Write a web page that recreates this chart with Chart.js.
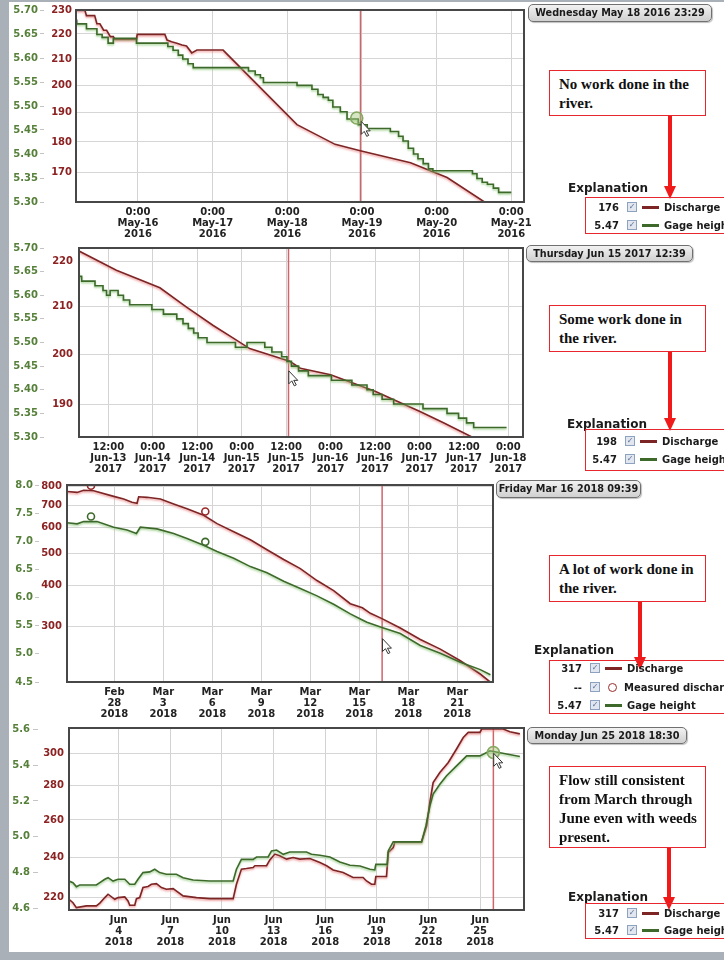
<!DOCTYPE html>
<html>
<head>
<meta charset="utf-8">
<script src="https://cdn.jsdelivr.net/npm/chart.js@4/dist/chart.umd.min.js"></script>
<style>
html, body { margin: 0; padding: 0; background: #fff; }
#page { position: relative; width: 724px; height: 960px; overflow: hidden; background: #fff; font-family: 'DejaVu Sans', sans-serif; }
canvas { position: absolute; left: 8px; }
.strip { position: absolute; background: #a9b0b8; }
.tip { position: absolute; box-sizing: border-box; border: 1px solid #707070; border-radius: 5px; background: linear-gradient(#f2f2f2, #d0d0d0); font-weight: bold; font-size: 9.7px; color: #1a1a1a; text-align: center; box-shadow: 1px 1px 1px rgba(0,0,0,.25); }
.note { position: absolute; box-sizing: border-box; border: 1.5px solid #e8262e; padding: 4px 0 0 9px; font: bold 15px/19px 'Liberation Serif', serif; color: #111; background: #fff; }
.shaft { position: absolute; width: 4px; background: #f01a1a; }
.head { position: absolute; width: 0; height: 0; border-left: 6px solid transparent; border-right: 6px solid transparent; border-top: 13px solid #f01a1a; }
.expl { position: absolute; font-weight: bold; font-size: 12px; line-height: 14px; color: #1b1b1b; }
.leg { position: absolute; box-sizing: border-box; border: 1.5px solid #e8262e; width: 200px; }
.row { position: absolute; display: flex; align-items: center; height: 12px; font-weight: bold; font-size: 10px; color: #1b1b1b; white-space: nowrap; }
.v { width: 40px; text-align: right; margin-right: 8px; }
.cb { box-sizing: border-box; width: 10px; height: 10px; border: 1px solid #8da2c0; background: #e1e6ef; font-size: 8px; line-height: 8px; text-align: center; color: #5b6f98; margin-right: 5px; }
.sw { width: 17px; height: 3px; margin-right: 5px; }
.mk { box-sizing: border-box; width: 9px; height: 9px; border: 1.6px solid #9b2a2a; border-radius: 50%; margin: 0 7px 0 3px; }
</style>
</head>
<body>
<div id="page">
  <div class="strip" style="left:0;top:0;width:9px;height:960px"></div>
  <div class="strip" style="left:0;top:0;width:724px;height:2px"></div>
  <div class="strip" style="left:0;top:952px;width:724px;height:8px"></div>

  <canvas id="c1" width="600" height="240" style="top:0"></canvas>
  <canvas id="c2" width="600" height="239" style="top:236px"></canvas>
  <canvas id="c3" width="600" height="246" style="top:474px"></canvas>
  <canvas id="c4" width="600" height="232" style="top:716px"></canvas>

  <!-- panel 1 -->
  <div class="tip" style="left:528px;top:4px;width:184px;height:18px;line-height:16px">Wednesday May 18 2016 23:29</div>
  <div class="note" style="left:549px;top:70px;width:157px;height:46px">No work done in the<br>river.</div>
  <div class="shaft" style="left:668px;top:116px;height:71px"></div>
  <div class="head" style="left:664px;top:186px"></div>
  <div class="expl" style="left:568px;top:181px">Explanation</div>
  <div class="leg" style="left:585px;top:197px;height:37px"></div>
  <div class="row" style="left:579px;top:201px"><span class="v">176</span><span class="cb">✓</span><span class="sw" style="background:#7d2424"></span><span>Discharge</span></div>
  <div class="row" style="left:579px;top:219px"><span class="v">5.47</span><span class="cb">✓</span><span class="sw" style="background:#3d6a2b"></span><span>Gage height</span></div>

  <!-- panel 2 -->
  <div class="tip" style="left:526px;top:245px;width:167px;height:17px;line-height:15px">Thursday Jun 15 2017 12:39</div>
  <div class="note" style="left:549px;top:305px;width:157px;height:47px">Some work done in<br>the river.</div>
  <div class="shaft" style="left:668px;top:352px;height:67px"></div>
  <div class="head" style="left:664px;top:418px"></div>
  <div class="expl" style="left:567px;top:417px">Explanation</div>
  <div class="leg" style="left:585px;top:429px;height:42px"></div>
  <div class="row" style="left:577px;top:435px"><span class="v">198</span><span class="cb">✓</span><span class="sw" style="background:#7d2424"></span><span>Discharge</span></div>
  <div class="row" style="left:577px;top:453px"><span class="v">5.47</span><span class="cb">✓</span><span class="sw" style="background:#3d6a2b"></span><span>Gage height</span></div>

  <!-- panel 3 -->
  <div class="tip" style="left:496px;top:480px;width:145px;height:18px;line-height:16px">Friday Mar 16 2018 09:39</div>
  <div class="note" style="left:549px;top:555px;width:157px;height:47px">A lot of work done in<br>the river.</div>
  <div class="shaft" style="left:638px;top:602px;height:56px"></div>
  <div class="head" style="left:634px;top:657px"></div>
  <div class="expl" style="left:534px;top:643px">Explanation</div>
  <div class="leg" style="left:549px;top:660px;height:54px"></div>
  <div class="row" style="left:542px;top:662px"><span class="v">317</span><span class="cb">✓</span><span class="sw" style="background:#7d2424"></span><span>Discharge</span></div>
  <div class="row" style="left:542px;top:681px"><span class="v">--</span><span class="cb">✓</span><span class="mk"></span><span>Measured discharge</span></div>
  <div class="row" style="left:542px;top:699px"><span class="v">5.47</span><span class="cb">✓</span><span class="sw" style="background:#3d6a2b"></span><span>Gage height</span></div>

  <!-- panel 4 -->
  <div class="tip" style="left:527px;top:727px;width:160px;height:17px;line-height:15px">Monday Jun 25 2018 18:30</div>
  <div class="note" style="left:549px;top:766px;width:157px;height:82px">Flow still consistent<br>from March through<br>June even with weeds<br>present.</div>
  <div class="shaft" style="left:667px;top:848px;height:50px"></div>
  <div class="head" style="left:663px;top:897px"></div>
  <div class="expl" style="left:568px;top:890px">Explanation</div>
  <div class="leg" style="left:585px;top:903px;height:36px"></div>
  <div class="row" style="left:579px;top:907px"><span class="v">317</span><span class="cb">✓</span><span class="sw" style="background:#7d2424"></span><span>Discharge</span></div>
  <div class="row" style="left:579px;top:924px"><span class="v">5.47</span><span class="cb">✓</span><span class="sw" style="background:#3d6a2b"></span><span>Gage height</span></div>
</div>

<script>
// ---------- panel 1: May 2016, x = days after May-15 0:00 ----------
const p1DisDays = [0.18, 0.29, 0.31, 0.42, 0.45, 0.49, 0.54, 0.58, 0.63, 0.67, 0.69, 0.98, 0.99, 1.36, 1.39, 1.45, 1.52, 1.59, 1.65, 1.72, 1.79, 2.14, 3.13, 3.64, 3.99, 4.65, 5.14, 5.64, 5.80];
const p1DisCfs  = [229.8, 229.8, 227.6, 227.6, 224.2, 224.2, 221.5, 221.5, 218.9, 218.9, 217.8, 217.8, 219.8, 219.8, 217.5, 216.8, 216.2, 215.5, 215.1, 212.4, 213.5, 213.5, 185.9, 179.2, 177.0, 173.2, 168.5, 161.0, 158.5];
const p1GageDays = [0.18, 0.31, 0.45, 0.52, 0.60, 0.67, 0.98, 1.40, 1.47, 1.54, 1.60, 1.67, 1.74, 2.48, 2.57, 2.64, 2.68, 3.13, 3.33, 3.41, 3.48, 3.55, 3.61, 3.71, 3.80, 3.95, 4.07, 4.38, 4.49, 4.55, 4.62, 4.69, 4.75, 4.82, 4.89, 4.95, 5.48, 5.54, 5.61, 5.68, 5.76, 5.83, 5.92, 6.00];
const p1GageFt   = [5.680, 5.671, 5.661, 5.649, 5.643, 5.631, 5.641, 5.631, 5.624, 5.616, 5.606, 5.598, 5.588, 5.580, 5.573, 5.565, 5.559, 5.549, 5.543, 5.535, 5.524, 5.518, 5.512, 5.498, 5.488, 5.473, 5.461, 5.453, 5.447, 5.437, 5.427, 5.412, 5.400, 5.390, 5.380, 5.369, 5.365, 5.359, 5.349, 5.341, 5.337, 5.329, 5.320, 5.320];
const p1XTicks = [1, 2, 3, 4, 5, 6];
const p1XLabels = [['0:00', 'May-16', '2016'], ['0:00', 'May-17', '2016'], ['0:00', 'May-18', '2016'], ['0:00', 'May-19', '2016'], ['0:00', 'May-20', '2016'], ['0:00', 'May-21', '2016']];
const p1QTicks = [230, 220, 210, 200, 190, 180, 170];
const p1GTicks = [5.30, 5.35, 5.40, 5.45, 5.50, 5.55, 5.60, 5.65, 5.70];
const p1Cursor = 3.98;
const p1Hover = { day: 3.93, ft: 5.475 };
const p1Mouse = { day: 3.99, ft: 5.468 };

// ---------- panel 2: June 2017, x = days after Jun-13 0:00 ----------
const p2DisDays = [0.17, 0.59, 1.08, 1.38, 1.68, 1.91, 2.09, 2.54, 2.66, 3.00, 3.50, 3.78, 4.00, 4.27, 4.59, 4.80];
const p2DisCfs  = [222.3, 218.0, 214.1, 209.9, 206.0, 203.3, 201.2, 198.6, 197.2, 195.9, 192.6, 190.4, 188.7, 186.5, 183.8, 182.2];
const p2GageDays = [0.17, 0.20, 0.35, 0.44, 0.48, 0.52, 0.61, 0.67, 0.74, 0.99, 1.12, 1.27, 1.34, 1.40, 1.46, 1.51, 1.61, 1.93, 2.06, 2.26, 2.34, 2.45, 2.51, 2.56, 2.64, 2.75, 3.01, 3.24, 3.41, 3.48, 3.58, 3.71, 4.04, 4.31, 4.44, 4.53, 4.61, 4.83, 4.98];
const p2GageFt   = [5.65, 5.64, 5.63, 5.62, 5.61, 5.60, 5.61, 5.60, 5.59, 5.58, 5.57, 5.56, 5.55, 5.54, 5.53, 5.52, 5.51, 5.50, 5.49, 5.50, 5.49, 5.48, 5.47, 5.46, 5.45, 5.44, 5.43, 5.42, 5.41, 5.40, 5.39, 5.38, 5.37, 5.36, 5.35, 5.34, 5.33, 5.32, 5.32];
const p2XTicks = [0.5, 1, 1.5, 2, 2.5, 3, 3.5, 4, 4.5, 5];
const p2XLabels = [['12:00', 'Jun-13', '2017'], ['0:00', 'Jun-14', '2017'], ['12:00', 'Jun-14', '2017'], ['0:00', 'Jun-15', '2017'], ['12:00', 'Jun-15', '2017'],
                   ['0:00', 'Jun-16', '2017'], ['12:00', 'Jun-16', '2017'], ['0:00', 'Jun-17', '2017'], ['12:00', 'Jun-17', '2017'], ['0:00', 'Jun-18', '2017']];
const p2QTicks = [220, 210, 200, 190];
const p2GTicks = [5.30, 5.35, 5.40, 5.45, 5.50, 5.55, 5.60, 5.65, 5.70];
const p2Cursor = 2.527;
const p2Mouse = { day: 2.53, ft: 5.44 };

// ---------- panel 3: Feb-Mar 2018, x = days after Feb-28 0:00 ----------
const p3DisDays = [-2.90, -2.28, -1.88, -1.27, -0.04, 0.57, 1.08, 1.39, 1.49, 2.00, 2.82, 3.63, 4.45, 5.47, 6.29, 7.31, 8.33, 9.35, 10.37, 11.39, 12.41, 13.43, 14.45, 15.19, 15.68, 16.39, 17.51, 18.74, 19.96, 21.19, 22.41, 23.03];
const p3DisCfs  = [773, 768, 780, 777, 747, 733, 717, 712, 745, 742, 733, 708, 685, 654, 617, 583, 551, 514, 480, 450, 414, 386, 352, 342, 329, 317, 297, 274, 256, 236, 215, 203];
const p3GageDays = [-2.90, -2.28, -1.88, -1.06, -0.04, 0.78, 1.35, 1.59, 2.61, 3.63, 4.45, 5.47, 6.29, 7.31, 8.33, 9.35, 10.37, 11.39, 12.41, 13.43, 14.45, 15.19, 15.47, 16.39, 17.51, 18.74, 19.96, 21.19, 22.41, 23.03];
const p3GageFt   = [7.33, 7.31, 7.35, 7.35, 7.25, 7.20, 7.14, 7.25, 7.22, 7.14, 7.05, 6.93, 6.82, 6.70, 6.55, 6.44, 6.29, 6.16, 6.03, 5.88, 5.71, 5.60, 5.56, 5.47, 5.36, 5.15, 5.01, 4.85, 4.72, 4.63];
const p3MeasDays = [-1.43, 5.57];
const p3MeasCfs  = [805, 672];
const p3MeasFt   = [7.44, 6.99];
const p3XTicks = [0, 3, 6, 9, 12, 15, 18, 21];
const p3XLabels = [['Feb', '28', '2018'], ['Mar', '3', '2018'], ['Mar', '6', '2018'], ['Mar', '9', '2018'], ['Mar', '12', '2018'], ['Mar', '15', '2018'], ['Mar', '18', '2018'], ['Mar', '21', '2018']];
const p3QTicks = [800, 700, 600, 500, 400, 300];
const p3GTicks = [4.5, 5.0, 5.5, 6.0, 6.5, 7.0, 7.5, 8.0];
const p3Cursor = 16.40;
const p3Mouse = { day: 16.42, ft: 5.27 };

// ---------- panel 4: June 2018, x = day of June ----------
const p4DisDays = [1.11, 1.34, 1.54, 2.12, 2.70, 2.90, 3.19, 3.38, 3.77, 3.96, 4.35, 4.54, 4.64, 4.93, 5.03, 5.22, 5.41, 5.70, 5.90, 6.19,
                   6.48, 6.77, 7.16, 7.74, 8.52, 9.29, 10.65, 10.84, 11.13, 11.42, 11.81, 11.91, 12.59, 12.78, 13.07, 13.36, 13.75, 14.13, 14.52, 15.11,
                   15.69, 16.08, 16.46, 17.04, 17.62, 18.20, 18.40, 18.69, 18.88, 18.94, 19.56, 19.66, 19.95, 20.05, 21.60, 21.89, 22.08, 22.27, 22.66, 23.15,
                   23.63, 24.02, 24.31, 24.99, 25.09, 26.34, 26.73, 27.31];
const p4DisCfs  = [219.2, 217.6, 215.3, 216.1, 216.1, 217.4, 220.0, 221.6, 219.2, 220.0, 220.3, 218.4, 216.4, 216.4, 219.5, 220.0, 224.8, 225.3, 226.4, 226.7,
                   224.8, 224.0, 224.3, 220.8, 220.0, 219.5, 219.5, 226.4, 233.9, 234.2, 234.7, 235.6, 235.6, 238.6, 241.6, 240.7, 239.0, 239.8, 239.0, 239.3,
                   237.2, 235.6, 233.5, 232.2, 229.7, 229.7, 228.0, 226.4, 226.4, 230.2, 230.2, 242.4, 245.0, 248.1, 248.1, 256.8, 270.0, 281.8, 288.0, 294.2,
                   302.9, 310.5, 313.9, 313.9, 316.2, 316.2, 314.4, 312.9];
const p4GageDays = [1.11, 1.34, 1.54, 1.73, 2.70, 2.90, 3.19, 3.38, 3.67, 3.96, 4.35, 4.64, 4.93, 5.12, 5.41, 5.80, 6.09, 6.38, 6.77, 7.35,
                    7.74, 8.32, 9.29, 10.65, 10.84, 11.13, 11.81, 12.01, 12.68, 12.88, 13.17, 13.56, 13.94, 14.91, 15.20, 15.69, 16.27, 16.85, 17.44, 18.02,
                    18.60, 18.88, 18.94, 19.60, 19.66, 19.95, 21.60, 21.85, 22.08, 22.27, 22.66, 23.05, 23.63, 24.22, 24.99, 25.57, 26.54, 27.31];
const p4GageFt   = [4.754, 4.745, 4.723, 4.732, 4.732, 4.745, 4.764, 4.773, 4.754, 4.764, 4.764, 4.736, 4.736, 4.764, 4.801, 4.805, 4.820, 4.801, 4.792, 4.792,
                    4.773, 4.760, 4.754, 4.754, 4.820, 4.875, 4.875, 4.888, 4.888, 4.922, 4.927, 4.903, 4.916, 4.916, 4.903, 4.898, 4.888, 4.860, 4.842, 4.838,
                    4.820, 4.816, 4.847, 4.847, 4.922, 4.972, 4.972, 5.061, 5.172, 5.238, 5.293, 5.340, 5.395, 5.451, 5.451, 5.479, 5.461, 5.447];
const p4XTicks = [4, 7, 10, 13, 16, 19, 22, 25];
const p4XLabels = [['Jun', '4', '2018'], ['Jun', '7', '2018'], ['Jun', '10', '2018'], ['Jun', '13', '2018'], ['Jun', '16', '2018'], ['Jun', '19', '2018'], ['Jun', '22', '2018'], ['Jun', '25', '2018']];
const p4QTicks = [300, 280, 260, 240, 220];
const p4GTicks = [4.6, 4.8, 5.0, 5.2, 5.4, 5.6];
const p4Cursor = 25.77;
const p4Hover = { day: 25.77, ft: 5.47 };
const p4Mouse = { day: 25.79, ft: 5.465 };

// ---------- drawing ----------
Chart.defaults.font.family = "'DejaVu Sans', sans-serif";
Chart.defaults.font.weight = 'bold';
Chart.defaults.font.size = 10;

const RED = '#7d2424';
const GREEN = '#3d6a2b';

function pts(xs, ys) {
  return xs.map((x, i) => ({ x: x, y: ys[i] }));
}

function line(xs, ys, axis, color, halo, stepped) {
  return { data: pts(xs, ys), yAxisID: axis, borderColor: color, borderWidth: 1.6, pointRadius: 0,
           tension: 0, stepped: stepped || false, halo: halo };
}

function dots(xs, ys, axis, color, fill, r) {
  return { data: pts(xs, ys), yAxisID: axis, showLine: false, pointRadius: r, pointBorderWidth: 1.6,
           pointBorderColor: color, pointBackgroundColor: fill };
}

// pale glow under the lines, like the screenshot
const halo = {
  id: 'halo',
  beforeDatasetDraw(chart, args) {
    const ds = chart.data.datasets[args.index];
    if (!ds.halo) return;
    const ctx = chart.ctx;
    ctx.save();
    ctx.shadowColor = ds.halo;
    ctx.shadowBlur = 2;
    ctx.shadowOffsetY = 1.5;
  },
  afterDatasetDraw(chart, args) {
    if (chart.data.datasets[args.index].halo) chart.ctx.restore();
  }
};

// cursor line, plot frame and the mouse pointer from the screenshot
const frame = {
  id: 'frame',
  beforeDatasetsDraw(chart, args, opts) {
    const a = chart.chartArea, ctx = chart.ctx;
    const x = chart.scales.x.getPixelForValue(opts.cursor);
    ctx.save();
    ctx.strokeStyle = '#d0646b';
    ctx.lineWidth = 1.5;
    ctx.beginPath();
    ctx.moveTo(x, a.top);
    ctx.lineTo(x, a.bottom);
    ctx.stroke();
    ctx.restore();
  },
  afterDatasetsDraw(chart, args, opts) {
    const a = chart.chartArea, ctx = chart.ctx;
    ctx.save();
    ctx.strokeStyle = '#474747';
    ctx.lineWidth = 2;
    ctx.strokeRect(a.left, a.top, a.right - a.left, a.bottom - a.top);
    if (opts.mouse) {
      const mx = chart.scales.x.getPixelForValue(opts.mouse.day);
      const my = chart.scales.g.getPixelForValue(opts.mouse.ft);
      const shape = [[0, 0], [0, 13], [3, 10], [5.5, 15], [7.5, 14], [5, 9.5], [9, 9.5]];
      ctx.beginPath();
      shape.forEach((p, i) => (i ? ctx.lineTo(mx + p[0], my + p[1]) : ctx.moveTo(mx + p[0], my + p[1])));
      ctx.closePath();
      ctx.fillStyle = '#fff';
      ctx.fill();
      ctx.lineWidth = 1;
      ctx.strokeStyle = '#333';
      ctx.stroke();
    }
    ctx.restore();
  }
};

function panel(id, o) {
  return new Chart(document.getElementById(id), {
    type: 'line',
    data: { datasets: o.datasets },
    options: {
      responsive: false,
      animation: false,
      events: [],
      layout: { padding: { top: o.padTop, right: o.padRight, left: 0, bottom: 0 } },
      plugins: { legend: { display: false }, tooltip: { enabled: false }, frame: { cursor: o.cursor, mouse: o.mouse } },
      scales: {
        x: {
          type: 'linear', min: o.xMin, max: o.xMax,
          afterBuildTicks: s => { s.ticks = o.xTicks.map(v => ({ value: v })); },
          afterFit: s => { s.height = 38; },
          ticks: { color: '#222', padding: 5, maxRotation: 0, autoSkip: false, font: { lineHeight: 1.1 },
                   callback: v => o.xLabels[o.xTicks.indexOf(v)] },
          grid: { color: '#d3d3d3', drawTicks: false },
          border: { display: false }
        },
        g: {
          position: 'left', weight: 1, min: o.gMin, max: o.gMax,
          afterBuildTicks: s => { s.ticks = o.gTicks.map(v => ({ value: v })); },
          afterFit: s => { s.width = o.gW; },
          ticks: { color: '#56803a', padding: o.gPad, autoSkip: false, callback: v => v.toFixed(o.gDec) },
          grid: { drawOnChartArea: false, tickLength: o.gTick, color: '#c4c4c4' },
          border: { display: false }
        },
        q: {
          type: 'logarithmic', position: 'left', weight: 0, min: o.qMin, max: o.qMax,
          afterBuildTicks: s => { s.ticks = o.qTicks.map(v => ({ value: v })); },
          afterFit: s => { s.width = o.qW; },
          ticks: { color: '#8c2222', padding: o.qPad, autoSkip: false, callback: v => String(v) },
          grid: { color: '#d6d6d6', drawTicks: false },
          border: { display: false }
        }
      }
    },
    plugins: [frame, halo]
  });
}

const PINK = 'rgba(235,130,130,0.75)';
const LIGHTGREEN = 'rgba(140,200,120,0.75)';

panel('c1', {
  datasets: [
    dots([p1Hover.day], [p1Hover.ft], 'g', '#86a860', 'rgba(160,200,120,0.45)', 6),
    line(p1GageDays, p1GageFt, 'g', GREEN, LIGHTGREEN, 'after'),
    line(p1DisDays, p1DisCfs, 'q', RED, PINK)
  ],
  xMin: 0.17, xMax: 6.17, xTicks: p1XTicks, xLabels: p1XLabels, cursor: p1Cursor, mouse: p1Mouse,
  gMin: 5.30, gMax: 5.70, gTicks: p1GTicks, gDec: 2, gW: 36, gPad: 2, gTick: 4,
  qMin: 161, qMax: 230, qTicks: p1QTicks, qW: 32, qPad: 4,
  padTop: 6, padRight: 84
});

panel('c2', {
  datasets: [
    line(p2GageDays, p2GageFt, 'g', GREEN, LIGHTGREEN, 'after'),
    line(p2DisDays, p2DisCfs, 'q', RED, PINK)
  ],
  xMin: 0.17, xMax: 5.165, xTicks: p2XTicks, xLabels: p2XLabels, cursor: p2Cursor, mouse: p2Mouse,
  gMin: 5.30, gMax: 5.70, gTicks: p2GTicks, gDec: 2, gW: 36, gPad: 2, gTick: 4,
  qMin: 183.8, qMax: 223, qTicks: p2QTicks, qW: 35, qPad: 6,
  padTop: 10, padRight: 85
});

panel('c3', {
  datasets: [
    dots(p3MeasDays, p3MeasCfs, 'q', '#9b2a2a', 'rgba(255,255,255,0)', 3.5),
    dots(p3MeasDays, p3MeasFt, 'g', '#3d6a2b', 'rgba(255,255,255,0)', 3.5),
    line(p3GageDays, p3GageFt, 'g', GREEN, LIGHTGREEN),
    line(p3DisDays, p3DisCfs, 'q', RED, PINK)
  ],
  xMin: -2.9, xMax: 23.19, xTicks: p3XTicks, xLabels: p3XLabels, cursor: p3Cursor, mouse: p3Mouse,
  gMin: 4.5, gMax: 8.0, gTicks: p3GTicks, gDec: 1, gW: 31, gPad: 2, gTick: 4,
  qMin: 203.3, qMax: 809, qTicks: p3QTicks, qW: 28, qPad: 5,
  padTop: 7, padRight: 115
});

panel('c4', {
  datasets: [
    dots([p4Hover.day], [p4Hover.ft], 'g', '#86a860', 'rgba(160,200,120,0.45)', 6),
    line(p4GageDays, p4GageFt, 'g', GREEN, LIGHTGREEN),
    line(p4DisDays, p4DisCfs, 'q', RED, PINK)
  ],
  xMin: 1.11, xMax: 27.55, xTicks: p4XTicks, xLabels: p4XLabels, cursor: p4Cursor, mouse: p4Mouse,
  gMin: 4.593, gMax: 5.606, gTicks: p4GTicks, gDec: 1, gW: 30, gPad: 3, gTick: 5,
  qMin: 214.2, qMax: 316.9, qTicks: p4QTicks, qW: 31, qPad: 5,
  padTop: 12, padRight: 84
});
</script>
</body>
</html>
